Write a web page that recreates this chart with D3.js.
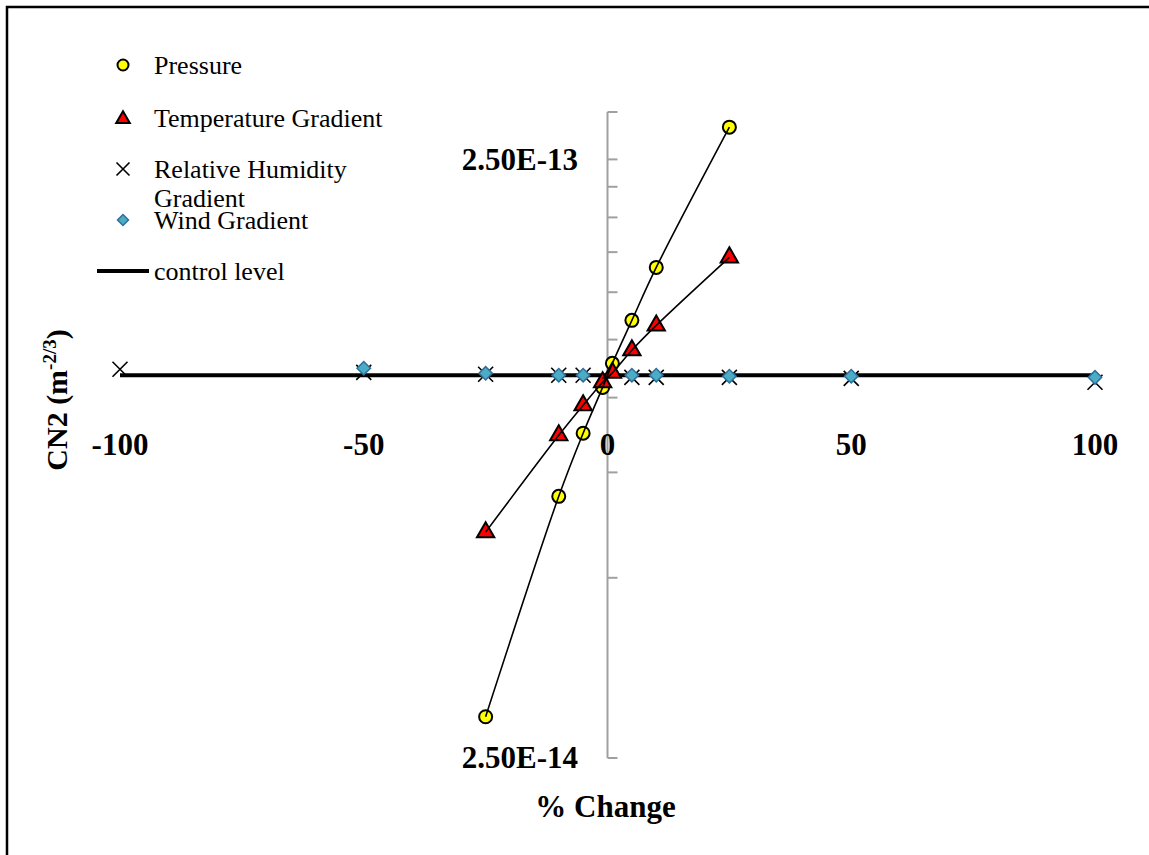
<!DOCTYPE html>
<html>
<head>
<meta charset="utf-8">
<script src="https://cdn.jsdelivr.net/npm/d3@7"></script>
<style>
  body { margin: 0; background: #fff; }
  text { font-family: "Times New Roman", "Liberation Serif", serif; }
</style>
</head>
<body>
<svg id="chart" width="1149" height="855"></svg>
<script>
// % change steps
const pctSteps = [-25, -10, -5, -1, 1, 5, 10, 25];
const pressure = [2.93e-14, 6.84e-14, 8.72e-14, 1.04e-13, 1.141e-13, 1.346e-13, 1.65e-13, 2.83e-13];
const tempGradient = [5.96e-14, 8.65e-14, 9.71e-14, 1.061e-13, 1.10e-13, 1.20e-13, 1.32e-13, 1.715e-13];

const humidSteps = [-100, -50, -25, -10, -5, 5, 10, 25, 50, 100];
const humidity = [1.115e-13, 1.102e-13, 1.094e-13, 1.09e-13, 1.09e-13, 1.081e-13, 1.081e-13, 1.081e-13, 1.077e-13, 1.061e-13];

const windSteps = [-50, -25, -10, -5, 5, 10, 25, 50, 100];
const wind = [1.12e-13, 1.098e-13, 1.09e-13, 1.09e-13, 1.09e-13, 1.09e-13, 1.086e-13, 1.086e-13, 1.081e-13];

const controlLevel = 1.09e-13;
const xTicks = [-100, -50, 0, 50, 100];
const yMajor = [2.5e-14, 2.5e-13];
const yMinor = [5e-14, 7.5e-14, 1e-13, 1.25e-13, 1.5e-13, 1.75e-13, 2e-13, 2.25e-13, 3e-13];

const svg = d3.select("#chart");

// outer frame (runs off the right/bottom edge)
svg.append("rect")
  .attr("x", 7).attr("y", 7)
  .attr("width", 1170).attr("height", 870)
  .attr("fill", "none").attr("stroke", "#000").attr("stroke-width", 2.5);

const x = d3.scaleLinear().domain([-100, 100]).range([120, 1095]);
const y = d3.scaleLog().domain([2.5e-14, 3e-13]).range([758, 112]);

// y axis (drawn at x = 0)
const yAxis = svg.append("g").attr("transform", `translate(${x(0)},0)`);
yAxis.append("line")
  .attr("y1", y(2.5e-14)).attr("y2", y(3e-13))
  .attr("stroke", "#a0a0a0").attr("stroke-width", 2);
yAxis.selectAll(".tick")
  .data(yMajor.concat(yMinor))
  .enter().append("line")
  .attr("x1", 0).attr("x2", 10)
  .attr("y1", d => y(d)).attr("y2", d => y(d))
  .attr("stroke", "#a0a0a0").attr("stroke-width", 2);

svg.selectAll(".ylabel")
  .data(yMajor)
  .enter().append("text")
  .attr("x", 578)
  .attr("y", d => y(d))
  .attr("dy", "0.33em")
  .attr("text-anchor", "end")
  .style("font-size", "31px").style("font-weight", "bold")
  .text(d => d3.format(".2e")(d).replace("e", "E"));

// x labels
svg.selectAll(".xlabel")
  .data(xTicks)
  .enter().append("text")
  .attr("x", d => x(d))
  .attr("y", 455)
  .attr("text-anchor", "middle")
  .style("font-size", "31px").style("font-weight", "bold")
  .text(d => d);

// axis titles
svg.append("text")
  .attr("x", x(0) - 2).attr("y", 817)
  .attr("text-anchor", "middle")
  .style("font-size", "31px").style("font-weight", "bold")
  .text("% Change");

const yt = svg.append("text")
  .attr("transform", "translate(67,400) rotate(-90)")
  .attr("text-anchor", "middle")
  .style("font-size", "30px").style("font-weight", "bold");
yt.append("tspan").text("CN2 (m");
yt.append("tspan").attr("dy", -11).style("font-size", "19px").text("-2/3");
yt.append("tspan").attr("dy", 11).text(")");

// control level
svg.append("line")
  .attr("x1", x(-100)).attr("x2", x(100))
  .attr("y1", y(controlLevel)).attr("y2", y(controlLevel))
  .attr("stroke", "#000").attr("stroke-width", 4);

const tri = d3.symbol().type(d3.symbolTriangle).size(130);
const sq = d3.symbol().type(d3.symbolSquare).size(90);

// pressure markers
svg.selectAll(".pres")
  .data(pctSteps)
  .enter().append("circle")
  .attr("cx", d => x(d))
  .attr("cy", (d, i) => y(pressure[i]))
  .attr("r", 6.5)
  .attr("fill", "#ffff00").attr("stroke", "#000").attr("stroke-width", 2);

// temperature markers
svg.selectAll(".temp")
  .data(pctSteps)
  .enter().append("path")
  .attr("d", tri)
  .attr("transform", (d, i) => `translate(${x(d)},${y(tempGradient[i])})`)
  .attr("fill", "#ff0000").attr("stroke", "#000").attr("stroke-width", 2);

// humidity crosses
const cross = s => `M${-s},${-s}L${s},${s}M${-s},${s}L${s},${-s}`;
svg.selectAll(".hum")
  .data(humidSteps)
  .enter().append("path")
  .attr("d", cross(7.5))
  .attr("transform", (d, i) => `translate(${x(d)},${y(humidity[i])})`)
  .attr("stroke", "#000").attr("stroke-width", 1.6).attr("fill", "none");

// wind diamonds
svg.selectAll(".wind")
  .data(windSteps)
  .enter().append("path")
  .attr("d", sq)
  .attr("transform", (d, i) => `translate(${x(d)},${y(wind[i])}) rotate(45)`)
  .attr("fill", "#4bacc6").attr("stroke", "#2f6f99").attr("stroke-width", 1.5);

// smoothed connecting lines
const line = d3.line().curve(d3.curveCatmullRom.alpha(0.5));
[pressure, tempGradient].forEach(vals => {
  svg.append("path")
    .attr("d", line(pctSteps.map((p, i) => [x(p), y(vals[i])])))
    .attr("fill", "none").attr("stroke", "#000").attr("stroke-width", 1.6);
});

// legend
const lg = svg.append("g").style("font-size", "26px");
const lx = 123, tx = 154;
lg.append("circle").attr("cx", lx).attr("cy", 65).attr("r", 5.5)
  .attr("fill", "#ffff00").attr("stroke", "#000").attr("stroke-width", 2);
lg.append("text").attr("x", tx).attr("y", 74).text("Pressure");

lg.append("path").attr("d", d3.symbol().type(d3.symbolTriangle).size(80))
  .attr("transform", `translate(${lx},119)`)
  .attr("fill", "#ff0000").attr("stroke", "#000").attr("stroke-width", 2);
lg.append("text").attr("x", tx).attr("y", 127).text("Temperature Gradient");

lg.append("path").attr("d", cross(6.5))
  .attr("transform", `translate(${lx},169)`)
  .attr("stroke", "#000").attr("stroke-width", 1.6);
lg.append("text").attr("x", tx).attr("y", 178).text("Relative Humidity");
lg.append("text").attr("x", tx).attr("y", 207).text("Gradient");

lg.append("path").attr("d", d3.symbol().type(d3.symbolSquare).size(60))
  .attr("transform", `translate(${lx},220) rotate(45)`)
  .attr("fill", "#4bacc6").attr("stroke", "#2f6f99").attr("stroke-width", 1.5);
lg.append("text").attr("x", tx).attr("y", 229).text("Wind Gradient");

lg.append("line").attr("x1", 97).attr("x2", 149).attr("y1", 271).attr("y2", 271)
  .attr("stroke", "#000").attr("stroke-width", 4);
lg.append("text").attr("x", tx).attr("y", 280).text("control level");
</script>
</body>
</html>
